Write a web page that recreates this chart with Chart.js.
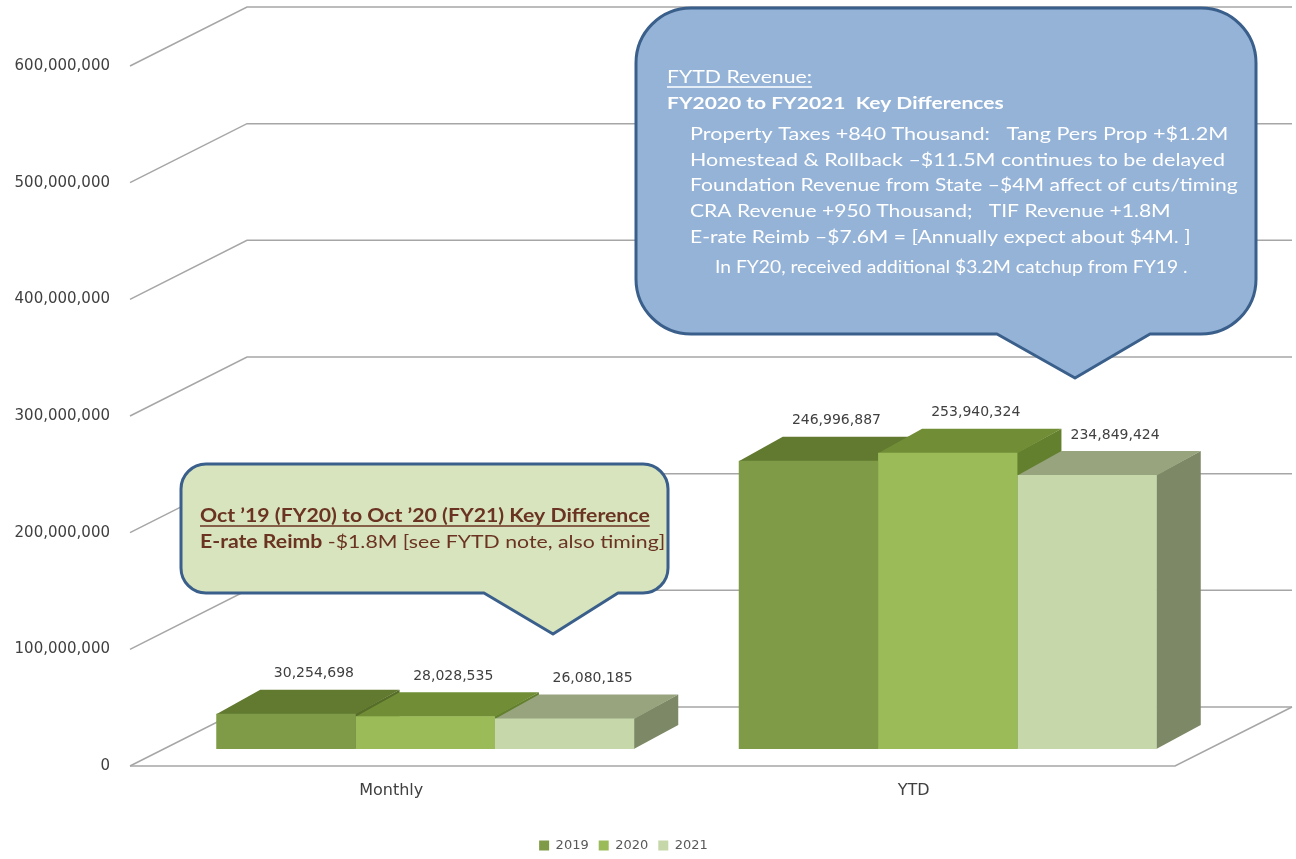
<!DOCTYPE html>
<html>
<head>
<meta charset="utf-8">
<script src="https://cdn.jsdelivr.net/npm/chart.js@4.4.1/dist/chart.umd.min.js"></script>
<style>
  html, body { margin: 0; padding: 0; background: #ffffff; }
  canvas { display: block; }
</style>
</head>
<body>
<canvas id="revenue" width="1296" height="859"></canvas>
<script>
// ---- data ----
const categories = ['Monthly', 'YTD'];
const seriesNames = ['2019', '2020', '2021'];
const values2019 = [30254698, 246996887];
const values2020 = [28028535, 253940324];
const values2021 = [26080185, 234849424];
const yTickValues = [0, 100000000, 200000000, 300000000, 400000000, 500000000, 600000000];

// ---- face colours (front / top / side) ----
const frontColors = ['#809b48', '#9bbb59', '#c6d7aa'];
const topColors = ['#617a2f', '#718e37', '#97a47e'];
const sideColors = ['#566d29', '#62802d', '#7d8866'];

// ---- perspective of the 3-D box ----
const WALL = { dx: 117, dy: -59 };     // depth of floor / back wall
const BAR_SHIFT = { dx: 34, dy: -17 }; // bars sit slightly inside the floor
const BAR_DEPTH = { dx: 44, dy: -24 }; // thickness of each bar

const AXIS_FONT = '"DejaVu Sans", sans-serif';
const NOTE_FONT = 'Lato, "Open Sans", sans-serif';

function fillPoly(ctx, pts) {
  ctx.beginPath();
  ctx.moveTo(pts[0][0], pts[0][1]);
  for (let i = 1; i < pts.length; i++) ctx.lineTo(pts[i][0], pts[i][1]);
  ctx.closePath();
  ctx.fill();
}

function calloutPath(ctx, x, y, w, h, r, tail) {
  ctx.beginPath();
  ctx.moveTo(x + r, y);
  ctx.lineTo(x + w - r, y);
  ctx.arcTo(x + w, y, x + w, y + r, r);
  ctx.lineTo(x + w, y + h - r);
  ctx.arcTo(x + w, y + h, x + w - r, y + h, r);
  ctx.lineTo(tail.x2, y + h);
  ctx.lineTo(tail.tipX, tail.tipY);
  ctx.lineTo(tail.x1, y + h);
  ctx.lineTo(x + r, y + h);
  ctx.arcTo(x, y + h, x, y + h - r, r);
  ctx.lineTo(x, y + r);
  ctx.arcTo(x, y, x + r, y, r);
  ctx.closePath();
}

// one line of note text, made of styled segments, with a horizontal stretch
function drawLine(ctx, line, color) {
  ctx.save();
  ctx.translate(line.x, line.y);
  ctx.scale(line.sx || 1, 1);
  ctx.fillStyle = color;
  ctx.textAlign = 'left';
  ctx.textBaseline = 'middle';
  let cx = 0;
  line.segs.forEach(seg => {
    ctx.font = seg.font;
    ctx.fillText(seg.text, cx, 0);
    cx += ctx.measureText(seg.text).width;
  });
  if (line.underline) {
    ctx.strokeStyle = color;
    ctx.lineWidth = 1.4;
    ctx.beginPath();
    ctx.moveTo(0, 10);
    ctx.lineTo(cx, 10);
    ctx.stroke();
  }
  ctx.restore();
}

const fytdNote = [
  { x: 667, y: 77, sx: 1.18, underline: true, segs: [{ text: 'FYTD Revenue:', font: `18px ${NOTE_FONT}` }] },
  { x: 667, y: 103, sx: 1.2, segs: [{ text: 'FY2020 to FY2021  Key Differences', font: `bold 17.5px ${NOTE_FONT}` }] },
  { x: 690, y: 134, sx: 1.2, segs: [{ text: 'Property Taxes +840 Thousand:   Tang Pers Prop +$1.2M', font: `18px ${NOTE_FONT}` }] },
  { x: 690, y: 160, sx: 1.19, segs: [{ text: 'Homestead & Rollback \u2013$11.5M continues to be delayed', font: `18px ${NOTE_FONT}` }] },
  { x: 690, y: 185, sx: 1.17, segs: [{ text: 'Foundation Revenue from State \u2013$4M affect of cuts/timing', font: `18px ${NOTE_FONT}` }] },
  { x: 690, y: 211, sx: 1.17, segs: [{ text: 'CRA Revenue +950 Thousand;   TIF Revenue +1.8M', font: `18px ${NOTE_FONT}` }] },
  { x: 690, y: 237, sx: 1.17, segs: [{ text: 'E-rate Reimb \u2013$7.6M = [Annually expect about $4M. ]', font: `18px ${NOTE_FONT}` }] },
  { x: 715, y: 267, sx: 1.07, segs: [{ text: 'In FY20, received additional $3.2M catchup from FY19 .', font: `18px ${NOTE_FONT}` }] }
];

const monthNote = [
  { x: 200, y: 516, sx: 1.18, underline: true, segs: [{ text: 'Oct \u201919 (FY20) to Oct \u201920 (FY21) Key Difference', font: `bold 18px ${NOTE_FONT}` }] },
  { x: 200, y: 542, sx: 1.18, segs: [
      { text: 'E-rate Reimb', font: `bold 18px ${NOTE_FONT}` },
      { text: ' -$1.8M [see FYTD note, also timing]', font: `18px ${NOTE_FONT}` }
    ] }
];

const depthPlugin = {
  id: 'depth3d',
  afterLayout(chart) {
    // centre the legend under the plotted box rather than under the whole layout width
    const lg = chart.legend;
    if (lg) {
      lg.left = 72;
      lg.width = lg.right - lg.left;
      lg.top += 3;
      lg.bottom += 3;
    }
  },
  beforeDatasetsDraw(chart) {
    const { ctx, chartArea: a, scales: { y } } = chart;
    // floor and back wall grid
    ctx.save();
    ctx.strokeStyle = '#a6a6a6';
    ctx.lineWidth = 1.5;
    y.ticks.forEach(t => {
      const py = y.getPixelForValue(t.value);
      ctx.beginPath();
      ctx.moveTo(a.left, py);
      ctx.lineTo(a.left + WALL.dx, py + WALL.dy);
      ctx.lineTo(a.right + WALL.dx, py + WALL.dy);
      ctx.stroke();
    });
    const p0 = y.getPixelForValue(0);
    ctx.beginPath();
    ctx.moveTo(a.left, p0);
    ctx.lineTo(a.right, p0);
    ctx.lineTo(a.right + WALL.dx, p0 + WALL.dy);
    ctx.stroke();
    ctx.restore();

    // side and top faces, left to right; front faces are drawn by Chart.js afterwards
    ctx.save();
    ctx.translate(BAR_SHIFT.dx, BAR_SHIFT.dy);
    const { dx, dy } = BAR_DEPTH;
    chart.data.datasets.forEach((ds, i) => {
      chart.getDatasetMeta(i).data.forEach(bar => {
        const l = bar.x - bar.width / 2, r = bar.x + bar.width / 2;
        const t = bar.y, b = bar.base;
        ctx.fillStyle = sideColors[i];
        fillPoly(ctx, [[r - 0.5, t], [r + dx, t + dy], [r + dx, b + dy], [r - 0.5, b]]);
        ctx.fillStyle = topColors[i];
        fillPoly(ctx, [[l, t + 0.5], [r, t + 0.5], [r + dx, t + dy], [l + dx, t + dy]]);
      });
    });
    // translation stays active while the front faces are drawn
  },
  afterDatasetsDraw(chart) {
    const { ctx } = chart;
    ctx.restore();
    // value labels above each bar
    ctx.save();
    ctx.font = `14px ${AXIS_FONT}`;
    ctx.fillStyle = '#404040';
    ctx.textAlign = 'center';
    ctx.textBaseline = 'middle';
    chart.data.datasets.forEach((ds, i) => {
      chart.getDatasetMeta(i).data.forEach((bar, j) => {
        const v = ds.data[j];
        const lx = bar.x + BAR_SHIFT.dx + 28;
        const ly = bar.y + BAR_SHIFT.dy + BAR_DEPTH.dy - 16;
        ctx.fillText(v.toLocaleString('en-US'), lx, ly);
      });
    });
    ctx.restore();
  },
  afterDraw(chart) {
    const { ctx } = chart;
    ctx.save();
    ctx.lineJoin = 'round';
    // FYTD note (blue)
    calloutPath(ctx, 636, 8, 620, 326, 55, { x1: 997, tipX: 1075, tipY: 378, x2: 1150 });
    ctx.fillStyle = '#95b3d7';
    ctx.fill();
    ctx.lineWidth = 3;
    ctx.strokeStyle = '#3a5f8b';
    ctx.stroke();
    fytdNote.forEach(l => drawLine(ctx, l, '#ffffff'));

    // monthly note (green)
    calloutPath(ctx, 181, 464, 487, 129, 25, { x1: 484, tipX: 553, tipY: 634, x2: 618 });
    ctx.fillStyle = '#d7e4bd';
    ctx.fill();
    ctx.lineWidth = 3;
    ctx.strokeStyle = '#3a5f8b';
    ctx.stroke();
    monthNote.forEach(l => drawLine(ctx, l, '#6a3322'));
    ctx.restore();
  }
};

const datasets = [values2019, values2020, values2021].map((vals, i) => ({
  label: seriesNames[i],
  data: vals,
  backgroundColor: frontColors[i],
  borderWidth: 0,
  barPercentage: 1.0,
  categoryPercentage: 0.8
}));

new Chart(document.getElementById('revenue'), {
  type: 'bar',
  data: { labels: categories, datasets },
  options: {
    responsive: false,
    animation: false,
    layout: { padding: { top: 66, right: 121, bottom: 0, left: 0 } },
    plugins: {
      tooltip: { enabled: false },
      legend: {
        position: 'bottom',
        labels: {
          boxWidth: 10,
          boxHeight: 10,
          padding: 10,
          color: '#595959',
          font: { family: AXIS_FONT, size: 13 }
        }
      }
    },
    scales: {
      x: {
        grid: { display: false, drawTicks: false },
        border: { display: false },
        ticks: { color: '#404040', padding: 15, font: { family: AXIS_FONT, size: 16 } },
        afterFit(scale) { scale.height = 60; }
      },
      y: {
        min: 0,
        max: 600000000,
        afterBuildTicks(scale) { scale.ticks = yTickValues.map(v => ({ value: v })); },
        grid: { display: false, drawTicks: false },
        border: { display: false },
        ticks: {
          color: '#404040',
          padding: 20,
          font: { family: AXIS_FONT, size: 15 },
          callback: v => Number(v).toLocaleString('en-US')
        },
        afterFit(scale) { scale.width = 130; }
      }
    }
  },
  plugins: [depthPlugin]
});
</script>
</body>
</html>
